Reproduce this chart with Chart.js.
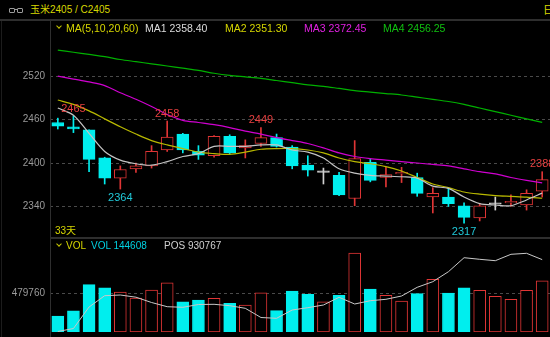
<!DOCTYPE html>
<html>
<head>
<meta charset="utf-8">
<title>玉米2405</title>
<script src="https://cdn.jsdelivr.net/npm/chart.js@4.4.1/dist/chart.umd.min.js"></script>
<style>
  html, body { margin: 0; padding: 0; background: #000; width: 550px; height: 337px; overflow: hidden; }
  body { position: relative; font-family: "Liberation Sans", "Noto Sans CJK SC", sans-serif; }
  canvas { position: absolute; left: 0; }
  #price { top: 21px; }
  #vol { top: 239px; }
  .t { position: absolute; white-space: nowrap; line-height: 12px; }
  .sep { position: absolute; background: #2e2e2e; }
  .chev { position: absolute; width: 3px; height: 3px; border-right: 1px solid #c8c800; border-bottom: 1px solid #c8c800; transform: rotate(45deg); }
  .link { position: absolute; top: 8px; width: 4px; height: 3px; border: 1px solid #9a9a9a; border-radius: 1px; }
</style>
</head>
<body>
<canvas id="price" width="550" height="216"></canvas>
<canvas id="vol" width="550" height="110"></canvas>

<div class="sep" style="left:0;top:19px;width:550px;height:2px"></div>
<div class="sep" style="left:50px;top:237px;width:500px;height:2px"></div>
<div class="sep" style="left:50px;top:21px;width:1px;height:316px"></div>
<div class="sep" style="left:1px;top:21px;width:1px;height:316px;background:#1c1c1c"></div>

<!-- header -->
<div class="link" style="left:9px"></div>
<div class="link" style="left:17px"></div>
<div class="sep" style="left:14px;top:9px;width:3px;height:1px;background:#9a9a9a"></div>
<div class="t" style="left:30px;top:4px;font-size:10px;color:#d8d800">玉米2405 / C2405</div>
<div class="t" style="left:543px;top:4px;font-size:11px;color:#d8d800">日</div>

<!-- MA legend -->
<div class="chev" style="left:57px;top:24px"></div>
<div class="t" style="left:66px;top:22px;font-size:10.5px;color:#d6d600">MA(5,10,20,60)</div>
<div class="t" style="left:145px;top:22px;font-size:10.5px;color:#dcdcdc">MA1 2358.40</div>
<div class="t" style="left:225px;top:22px;font-size:10.5px;color:#d6d600">MA2 2351.30</div>
<div class="t" style="left:304px;top:22px;font-size:10.5px;color:#e020e0">MA3 2372.45</div>
<div class="t" style="left:383px;top:22px;font-size:10.5px;color:#10c010">MA4 2456.25</div>

<div class="t" style="left:55px;top:225px;font-size:10px;color:#d6d600">33天</div>

<!-- VOL legend -->
<div class="chev" style="left:57px;top:242px"></div>
<div class="t" style="left:66px;top:240px;font-size:10px;color:#d6d600">VOL</div>
<div class="t" style="left:91px;top:240px;font-size:10px;color:#00d0e0">VOL 144608</div>
<div class="t" style="left:164px;top:240px;font-size:10px;color:#d0d0d0">POS 930767</div>

<script>
// trading days
const days = [
  "2023/12/06", "2023/12/07", "2023/12/08", "2023/12/11", "2023/12/12", "2023/12/13", "2023/12/14", "2023/12/15",
  "2023/12/18", "2023/12/19", "2023/12/20", "2023/12/21", "2023/12/22", "2023/12/25", "2023/12/26", "2023/12/27",
  "2023/12/28", "2023/12/29", "2024/01/02", "2024/01/03", "2024/01/04", "2024/01/05", "2024/01/08", "2024/01/09",
  "2024/01/10", "2024/01/11", "2024/01/12", "2024/01/15", "2024/01/16", "2024/01/17", "2024/01/18", "2024/01/19"
];
const dateLabelIdx = [6, 19, 31];

// OHLC
const open  = [2456, 2450, 2446, 2407, 2379, 2392, 2396, 2418, 2440, 2416, 2410, 2437, 2421, 2427, 2435, 2422,
               2397, 2387, 2383, 2351, 2401, 2380, 2385, 2380, 2353, 2353, 2341, 2324, 2343, 2345, 2342, 2361];
const high  = [2462, 2465, 2446, 2408, 2396, 2400, 2424, 2458, 2441, 2424, 2438, 2439, 2432, 2449, 2440, 2424,
               2410, 2393, 2387, 2431, 2405, 2394, 2394, 2386, 2366, 2366, 2345, 2344, 2353, 2356, 2363, 2388];
const low   = [2447, 2442, 2388, 2371, 2364, 2387, 2393, 2416, 2414, 2405, 2408, 2413, 2407, 2423, 2422, 2392,
               2382, 2371, 2355, 2341, 2374, 2367, 2373, 2354, 2331, 2340, 2317, 2320, 2335, 2340, 2335, 2353];
const close = [2451, 2447, 2405, 2379, 2391, 2396, 2416, 2436, 2418, 2411, 2437, 2414, 2424, 2435, 2423, 2396,
               2390, 2387, 2356, 2406, 2376, 2384, 2387, 2358, 2358, 2344, 2325, 2341, 2343, 2347, 2358, 2377];

// moving averages
const ma5  = [2476, 2466, 2441, 2416, 2404, 2399, 2397, 2402, 2409, 2413, 2423, 2423, 2423, 2425, 2425, 2418,
              2415, 2407, 2392, 2386, 2383, 2382, 2381, 2379, 2368, 2365, 2353, 2344, 2342, 2341, 2349, 2358.4];
const ma10 = [2487, 2481, 2472, 2461, 2450, 2440, 2431, 2425, 2420, 2415, 2413, 2412, 2415, 2419, 2420, 2420,
              2418, 2414, 2407, 2402, 2399, 2395, 2389, 2380, 2371, 2366, 2360, 2357, 2355, 2354, 2353, 2351.3];
const ma20 = [2520, 2516, 2512, 2507, 2497, 2488, 2478, 2467, 2459, 2456, 2453, 2449, 2444, 2440, 2435, 2431,
              2427, 2421, 2414, 2409, 2406, 2404, 2402, 2400, 2398, 2396, 2392, 2388, 2385, 2380, 2376, 2372.45];
const ma60 = [2556, 2553, 2550, 2547, 2543, 2540, 2537, 2534, 2531, 2528, 2524, 2521, 2519, 2517, 2514, 2511,
              2508, 2506, 2503, 2500, 2498, 2496, 2494, 2491, 2488, 2485, 2481, 2476, 2471, 2466, 2461, 2456.25];

// volume and open interest
const volume = [196000, 262000, 587000, 546000, 496000, 421000, 521000, 609000, 375000, 396000, 416000, 354000,
                333000, 487000, 265000, 508000, 467000, 375000, 454000, 979000, 533000, 454000, 383000, 475000,
                654000, 483000, 546000, 517000, 442000, 404000, 517000, 633000];
const pos = [787000, 793000, 836000, 858600, 860000, 855600, 845000, 836600, 835400, 841000, 841400, 838600,
             833400, 815000, 813400, 830000, 834600, 840000, 855400, 842000, 848600, 851400, 858000, 875400,
             886600, 906600, 934600, 931400, 928600, 941400, 943400, 930767];

const priceTicks = [2340, 2400, 2460, 2520];
const volTicks = [479760];
const highMarks = [1, 7, 13, 31];
const lowMarks = [4, 26];

const UP = '#e03535', DOWN = '#00eeee', FLAT = '#d0d0d0';
const dir = close.map((c, i) => c > open[i] ? 1 : (c < open[i] ? -1 : 0));
const candleColor = dir.map(d => d > 0 ? UP : (d < 0 ? DOWN : FLAT));
const bodyFill = dir.map(d => d > 0 ? '#000' : (d < 0 ? DOWN : FLAT));
const volUp = close.map((c, i) => c >= open[i]);

const axisFont = { family: 'Liberation Sans', size: 10 };

// high / low price marks
const markPlugin = {
  id: 'marks',
  afterDatasetsDraw(chart) {
    const { ctx, scales: { x, y } } = chart;
    ctx.save();
    ctx.font = '11px "Liberation Sans"';
    ctx.textAlign = 'center';
    ctx.fillStyle = '#e84040';
    ctx.textBaseline = 'bottom';
    highMarks.forEach(i => ctx.fillText(String(high[i]), x.getPixelForValue(i), y.getPixelForValue(high[i]) - 2));
    ctx.fillStyle = '#20c8d8';
    ctx.textBaseline = 'top';
    lowMarks.forEach(i => ctx.fillText(String(low[i]), x.getPixelForValue(i), y.getPixelForValue(low[i]) + 3));
    ctx.restore();
  }
};

const maLine = (data, color) => ({
  type: 'line', data, borderColor: color, borderWidth: 1.2, pointRadius: 0, tension: 0.3, order: 0
});

new Chart(document.getElementById('price'), {
  type: 'bar',
  data: {
    labels: days,
    datasets: [
      maLine(ma5, '#c4c4c4'),
      maLine(ma10, '#b8b800'),
      maLine(ma20, '#d000d0'),
      maLine(ma60, '#00b000'),
      {
        data: open.map((o, i) => [o, close[i]]),
        backgroundColor: bodyFill, borderColor: candleColor, borderWidth: 1,
        borderSkipped: false, barThickness: 12, minBarLength: 1.5, grouped: false, order: 1
      },
      {
        data: low.map((l, i) => [l, high[i]]),
        backgroundColor: candleColor, borderWidth: 0, barThickness: 1, grouped: false, order: 2
      }
    ]
  },
  options: {
    responsive: false,
    animation: false,
    devicePixelRatio: 1,
    layout: { padding: 0, autoPadding: false },
    plugins: { legend: { display: false }, tooltip: { enabled: false } },
    scales: {
      x: { display: false, offset: true },
      y: {
        min: 2297.8, max: 2596.2,
        afterBuildTicks: a => { a.ticks = priceTicks.map(v => ({ value: v })); },
        afterFit: a => { a.width = 50; a.paddingTop = 0; a.paddingBottom = 0; },
        ticks: { color: '#9a9a9a', font: axisFont, padding: 5, callback: v => String(v) },
        grid: { color: '#4a4a4a', drawTicks: false },
        border: { display: false, dash: [3, 3] }
      }
    }
  },
  plugins: [markPlugin]
});

new Chart(document.getElementById('vol'), {
  type: 'bar',
  data: {
    labels: days,
    datasets: [
      {
        type: 'line', data: pos, yAxisID: 'y1', borderColor: '#c8c8c8', borderWidth: 1,
        pointRadius: 0, tension: 0, order: 0
      },
      {
        data: volume,
        backgroundColor: volUp.map(u => u ? '#000' : DOWN),
        borderColor: volUp.map(u => u ? UP : DOWN),
        borderWidth: 1, borderSkipped: false, barThickness: 12, order: 1
      }
    ]
  },
  options: {
    responsive: false,
    animation: false,
    devicePixelRatio: 1,
    layout: { padding: { top: 11 }, autoPadding: false },
    plugins: { legend: { display: false }, tooltip: { enabled: false } },
    scales: {
      x: {
        offset: true,
        grid: { display: false },
        border: { display: false },
        afterFit: a => { a.height = 17; a.paddingLeft = 0; a.paddingRight = 0; },
        ticks: {
          autoSkip: false, maxRotation: 0, color: '#8a8a8a', font: axisFont, padding: 1,
          callback: (v, i) => dateLabelIdx.includes(i) ? days[i] : ''
        }
      },
      y: {
        min: 0, max: 1016500,
        afterBuildTicks: a => { a.ticks = volTicks.map(v => ({ value: v })); },
        afterFit: a => { a.width = 50; a.paddingTop = 0; a.paddingBottom = 0; },
        ticks: { color: '#9a9a9a', font: axisFont, padding: 5, callback: v => String(v) },
        grid: { color: '#4a4a4a', drawTicks: false },
        border: { display: false, dash: [3, 3] }
      },
      y1: { display: false, min: 786000, max: 950000 }
    }
  }
});
</script>
</body>
</html>
